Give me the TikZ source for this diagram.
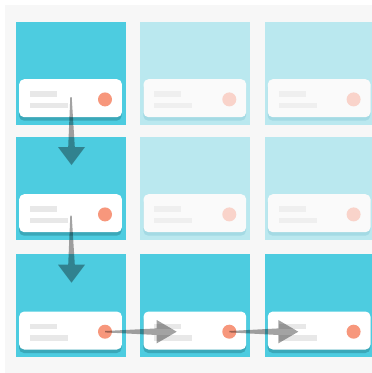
\documentclass[tikz,border=0pt]{standalone}
\usetikzlibrary{calc}
\definecolor{bggrey}{HTML}{F7F7F7}
\definecolor{panelAcol}{HTML}{4DCCE0}
\definecolor{panelLcol}{HTML}{BAE8EF}
\definecolor{shadowAcol}{HTML}{3AA8B9}
\definecolor{shadowLcol}{HTML}{A4DAE4}
\definecolor{cardAcol}{HTML}{FFFFFF}
\definecolor{cardLcol}{HTML}{FAFAFA}
\definecolor{dotAcol}{HTML}{F7977C}
\definecolor{dotLcol}{HTML}{F9D3CA}
\definecolor{barAcol}{HTML}{E8E8E8}
\definecolor{barLcol}{HTML}{EFEFEF}
\tikzset{
  panelbox/.style={anchor=north west, inner sep=0pt, draw=none, minimum width=110pt, minimum height=103pt},
  cardbox/.style={anchor=north west, inner sep=0pt, draw=none, rounded corners=5pt, minimum width=102.7pt, minimum height=38pt},
  dotnode/.style={circle, inner sep=0pt, draw=none, minimum size=14pt},
  arrowfill/.style={fill=black, fill opacity=0.36, draw=none},
}
\begin{document}
\begin{tikzpicture}[x=1pt,y=-1pt]
\useasboundingbox (0,0) rectangle (372,373);
\fill[white] (0,0) rectangle (372,373);
\fill[bggrey] (5,5) rectangle (372,373);
\foreach \c/\r/\x/\y/\st in {
  1/1/15.7/21.7/A, 2/1/140/21.7/L, 3/1/264.3/21.7/L,
  1/2/15.7/136.7/A, 2/2/140/136.7/L, 3/2/264.3/136.7/L,
  1/3/15.7/254/A, 2/3/140/254/A, 3/3/264.3/254/A}{
  \node[panelbox, fill=panel\st col] (p\c\r) at (\x,\y) {};
  \fill[shadow\st col, rounded corners=5pt] ($(p\c\r.north west)+(3.3,61)$) rectangle ($(p\c\r.north west)+(106,99)$);
  \node[cardbox, fill=card\st col] (card\c\r) at ($(p\c\r.north west)+(3.3,57.3)$) {};
  \fill[bar\st col] ($(p\c\r.north west)+(14.3,69.5)$) rectangle ($(p\c\r.north west)+(41.3,75)$);
  \fill[bar\st col] ($(p\c\r.north west)+(14.3,80.8)$) rectangle ($(p\c\r.north west)+(52.3,86.5)$);
  \node[dotnode, fill=dot\st col] (dot\c\r) at ($(p\c\r.north west)+(89.3,77.7)$) {};
}
% arrow end points
\coordinate (s1) at ($(p11.north west)+(55.3,75.3)$);
\coordinate (t1) at ($(p12.north west)+(55.8,28.3)$);
\coordinate (s2) at ($(p12.north west)+(55.3,78.8)$);
\coordinate (t2) at ($(p13.north west)+(55.8,28.7)$);
\coordinate (s3) at (dot13.center);
\coordinate (t3) at ($(p23.north west)+(36.7,77.7)$);
\coordinate (s4) at (dot23.center);
\coordinate (t4) at ($(p33.north west)+(34,77.7)$);
% vertical arrows
\foreach \s/\t in {s1/t1, s2/t2}{
  \fill[arrowfill] ($(\s)+(-0.7,0)$) -- ($(\t)+(-3.3,-18)$) -- ($(\t)+(-13.5,-18)$) -- (\t)
    -- ($(\t)+(13.5,-18)$) -- ($(\t)+(3.3,-18)$) -- ($(\s)+(0.7,0)$) -- cycle;
}
% horizontal arrows
\foreach \s/\t in {s3/t3, s4/t4}{
  \fill[arrowfill] ($(\s)+(0,-0.7)$) -- ($(\t)+(-20,-3.3)$) -- ($(\t)+(-20,-11.7)$) -- (\t)
    -- ($(\t)+(-20,11.7)$) -- ($(\t)+(-20,3.3)$) -- ($(\s)+(0,0.7)$) -- cycle;
}
\end{tikzpicture}
\end{document}
